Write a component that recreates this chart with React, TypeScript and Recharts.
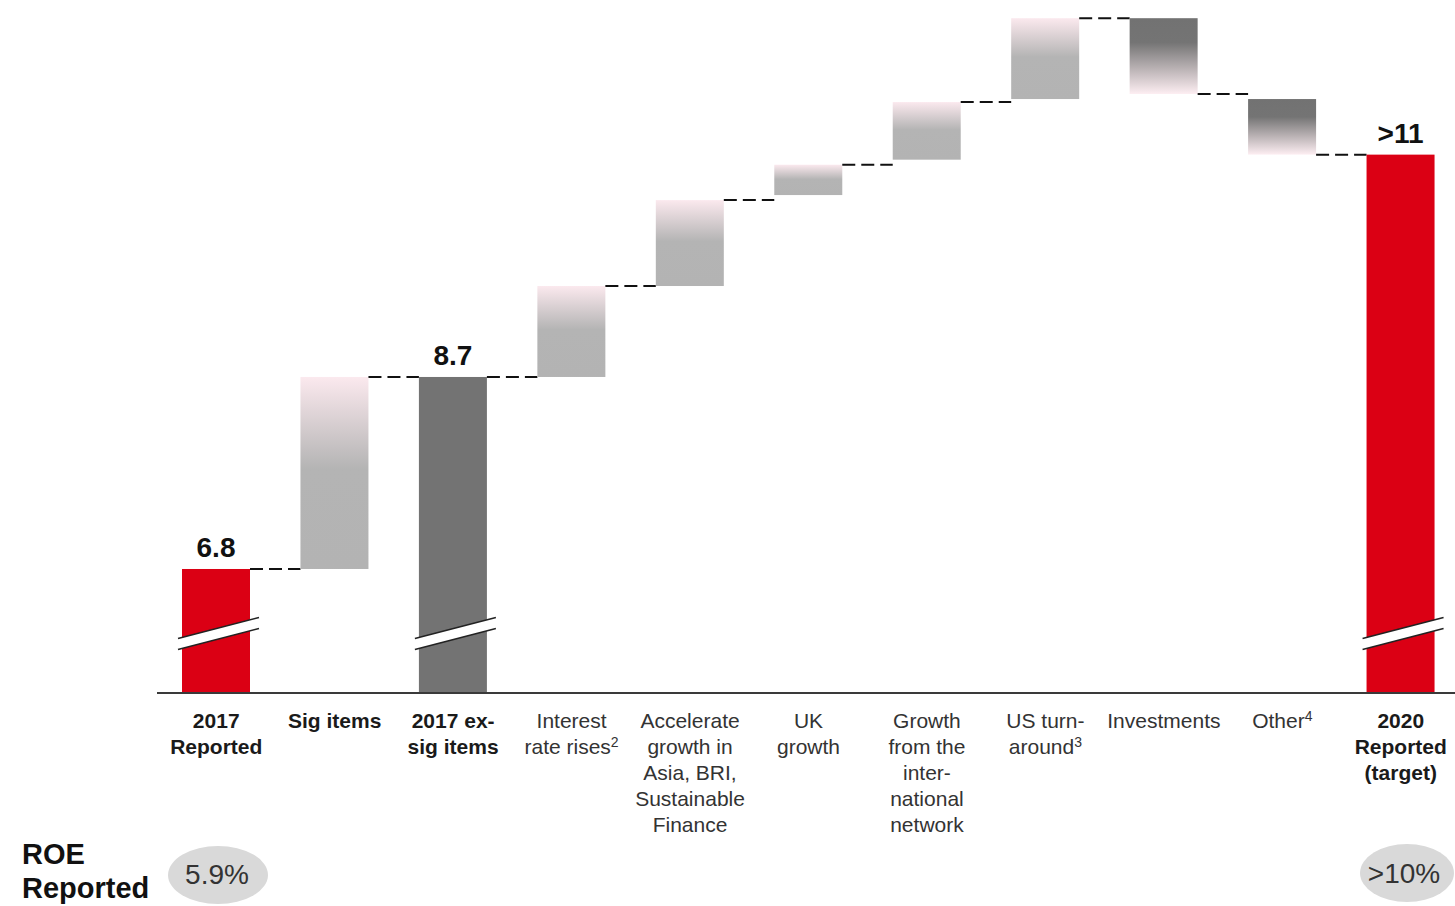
import React from 'react'
import { BarChart, Bar, XAxis, YAxis } from 'recharts'

// categories (\n = line break, ^ = superscript footnote)
const categories = [
  '2017\nReported',
  'Sig items',
  '2017 ex-\nsig items',
  'Interest\nrate rises^2',
  'Accelerate\ngrowth in\nAsia, BRI,\nSustainable\nFinance',
  'UK\ngrowth',
  'Growth\nfrom the\ninter-\nnational\nnetwork',
  'US turn-\naround^3',
  'Investments',
  'Other^4',
  '2020\nReported\n(target)',
]
const boldLabels = [true, true, true, false, false, false, false, false, false, false, true]
const kinds = ['red', 'up', 'grey', 'up', 'up', 'up', 'up', 'up', 'down', 'down', 'red']
// ROE-adjusted bridge, % (axis is broken below the first bar)
const AXIS_MIN = 5.573
const AXIS_MAX = 12.43
const startValues = [AXIS_MIN, 6.8, AXIS_MIN, 8.7, 9.6, 10.5, 10.85, 11.45, 12.25, 11.45, AXIS_MIN]
const endValues = [6.8, 8.7, 8.7, 9.6, 10.45, 10.8, 11.42, 12.25, 11.5, 10.9, 10.9]
const valueLabels = ['6.8', '', '8.7', '', '', '', '', '', '', '', '>11']
const roeLabels = ['5.9%', '>10%']

const W = 1460
const H = 906
const M = { top: 0, right: 0, left: 157, bottom: 0 }
const STEP = (W - M.left - M.right) / categories.length

const data = categories.map((name, i) => ({
  name,
  range: [Math.min(startValues[i], endValues[i]), Math.max(startValues[i], endValues[i])],
  kind: kinds[i],
  up: endValues[i] >= startValues[i],
  label: valueLabels[i],
  last: i === categories.length - 1,
}))

const fills: Record<string, string> = {
  red: '#db0014',
  grey: '#737373',
  up: 'url(#gUp)',
  down: 'url(#gDown)',
}

function BreakMark({ x, width, bottom }: { x: number; width: number; bottom: number }) {
  const xl = x - 4
  const xr = x + width + 9
  const cl = bottom - 49
  const cr = bottom - 70
  const h = 5.5
  return (
    <g>
      <polygon points={`${xl},${cl - h} ${xr},${cr - h} ${xr},${cr + h} ${xl},${cl + h}`} fill="#fff" />
      <line x1={xl} y1={cl - h} x2={xr} y2={cr - h} stroke="#222" strokeWidth={1.5} />
      <line x1={xl} y1={cl + h} x2={xr} y2={cr + h} stroke="#222" strokeWidth={1.5} />
    </g>
  )
}

function WaterfallBar(props: any) {
  const { x, y, width, height, payload } = props
  const top = Math.min(y, y + height)
  const h = Math.abs(height)
  const endY = payload.up ? top : top + h
  const isTotal = payload.kind === 'red' || payload.kind === 'grey'
  return (
    <g>
      <rect x={x} y={top} width={width} height={h} fill={fills[payload.kind]} />
      {isTotal && <BreakMark x={x} width={width} bottom={top + h} />}
      {!payload.last && (
        <line x1={x + width} y1={endY} x2={x + STEP} y2={endY} stroke="#111" strokeWidth={2} strokeDasharray="13 6" />
      )}
      {payload.label && (
        <text x={x + width / 2} y={top - 12} textAnchor="middle" fontSize={28} fontWeight="bold" fill="#111"
          fontFamily="'Liberation Sans', Arial, sans-serif">
          {payload.label}
        </text>
      )}
    </g>
  )
}

function CategoryTick(props: any) {
  const { x, y, payload, index } = props
  const lines = String(payload.value).split('\n')
  const bold = boldLabels[index]
  return (
    <text x={x} y={y} textAnchor="middle" fontSize={21} fontWeight={bold ? 'bold' : 'normal'}
      fill={bold ? '#1a1a1a' : '#333'} fontFamily="'Liberation Sans', Arial, sans-serif">
      {lines.map((ln, i) => {
        const [main, sup] = ln.split('^')
        return (
          <tspan key={i} x={x} y={y + 35 + i * 26}>
            {main}
            {sup && <tspan fontSize={14} dy={-7}>{sup}</tspan>}
          </tspan>
        )
      })}
    </text>
  )
}

export default function App() {
  return (
    <div style={{ position: 'absolute', left: 0, top: 0, width: 1455, height: 906, overflow: 'hidden', background: '#fff' }}>
      <BarChart width={W} height={H} data={data} margin={M}>
        <defs>
          <linearGradient id="gUp" x1="0" y1="0" x2="0" y2="1">
            <stop offset="0%" stopColor="#fbe9ee" />
            <stop offset="48%" stopColor="#b4b4b4" />
            <stop offset="100%" stopColor="#b3b3b3" />
          </linearGradient>
          <linearGradient id="gDown" x1="0" y1="0" x2="0" y2="1">
            <stop offset="0%" stopColor="#727272" />
            <stop offset="32%" stopColor="#747474" />
            <stop offset="100%" stopColor="#fdeef2" />
          </linearGradient>
        </defs>
        <XAxis dataKey="name" interval={0} height={213} tickSize={0} tickMargin={0} tickLine={false}
          axisLine={{ stroke: '#3a3a3a', strokeWidth: 2 }} tick={<CategoryTick />} />
        <YAxis hide type="number" domain={[AXIS_MIN, AXIS_MAX]} allowDataOverflow />
        <Bar dataKey="range" barSize={68} shape={<WaterfallBar />} isAnimationActive={false} />
      </BarChart>
      <svg width={1455} height={906} style={{ position: 'absolute', left: 0, top: 0, pointerEvents: 'none' }}
        fontFamily="'Liberation Sans', Arial, sans-serif">
        <text x={22} y={864} fontSize={29} fontWeight="bold" fill="#111">ROE</text>
        <text x={22} y={898} fontSize={29} fontWeight="bold" fill="#111">Reported</text>
        <ellipse cx={218} cy={875} rx={50} ry={29} fill="#d9d9d9" />
        <text x={217} y={884} fontSize={28} textAnchor="middle" fill="#333">{roeLabels[0]}</text>
        <ellipse cx={1407} cy={873} rx={47} ry={29} fill="#d9d9d9" />
        <text x={1404} y={883} fontSize={28} textAnchor="middle" fill="#333">{roeLabels[1]}</text>
      </svg>
    </div>
  )
}
